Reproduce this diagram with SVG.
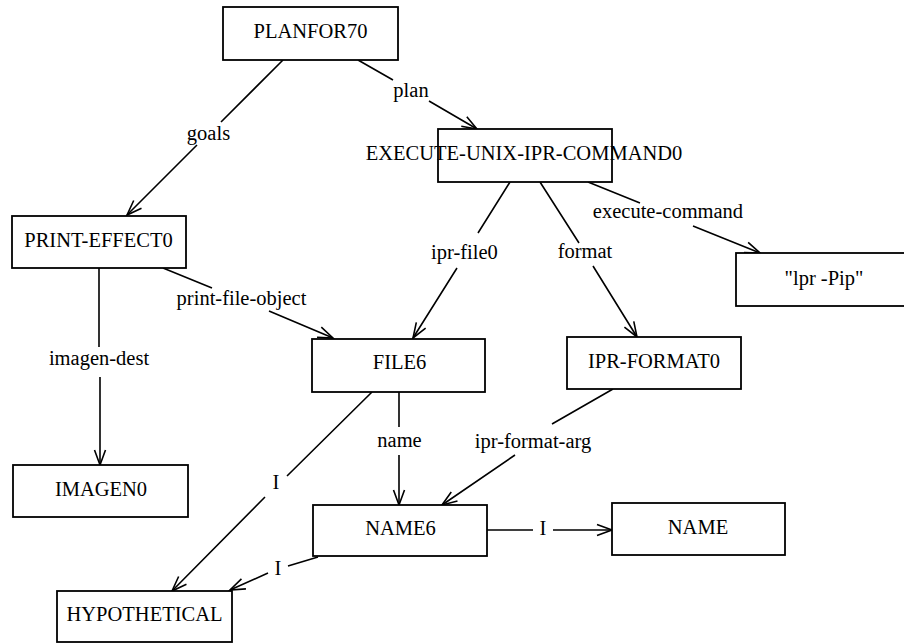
<svg xmlns="http://www.w3.org/2000/svg" width="904" height="644" viewBox="0 0 904 644">
  <defs>
    <marker id="arrow" markerUnits="userSpaceOnUse" markerWidth="20" markerHeight="14" refX="16" refY="6" orient="auto" overflow="visible">
      <path d="M1,0.5 L16,6 L1,11.5" fill="none" stroke="#000" stroke-width="1.6"/>
    </marker>
  </defs>
  <style>
    rect { fill: #fff; stroke: #000; stroke-width: 1.8; }
    text { font-family: "Liberation Serif", "Times New Roman", serif; font-size: 20.5px; fill: #000; text-anchor: middle; }
    .edge { fill: none; stroke: #000; stroke-width: 1.6; marker-end: url(#arrow); }
  </style>
  <rect x="0" y="0" width="904" height="644" style="fill:#fff;stroke:none"/>

  <!-- connectors: each path is broken around its label; the arrow sits on the last segment -->
  <g id="connectors">
    <path class="edge" d="M283,60 L221,122 M197,145 L127,215"/>
    <path class="edge" d="M358,60 L393,80 M429,101 L477,129"/>
    <path class="edge" d="M588,182 L640,203 M693,226 L760,253"/>
    <path class="edge" d="M510,182 L478,233 M457,268 L413,338"/>
    <path class="edge" d="M540,182 L579,243 M593,266 L637,337"/>
    <path class="edge" d="M163,268 L212,288 M269,311 L333,338"/>
    <path class="edge" d="M99,268 L99,347 M100,377 L100,465"/>
    <path class="edge" d="M399,392 L399,427 M399,455 L399,505"/>
    <path class="edge" d="M613,389 L552,424 M515,455 L442,505"/>
    <path class="edge" d="M372,392 L287,476 M265,497 L172,591"/>
    <path class="edge" d="M318,557 L288,566 M268,573 L230,590"/>
    <path class="edge" d="M487,530 L533,530 M553,530 L612,530"/>

    <text x="208.5" y="140">goals</text>
    <text x="411" y="97">plan</text>
    <text x="668" y="218">execute-command</text>
    <text x="464.5" y="259">ipr-file0</text>
    <text x="585" y="258">format</text>
    <text x="241.5" y="305">print-file-object</text>
    <text x="99" y="365">imagen-dest</text>
    <text x="399.5" y="447">name</text>
    <text x="533" y="448">ipr-format-arg</text>
    <text x="276" y="489">I</text>
    <text x="278" y="575">I</text>
    <text x="543" y="535">I</text>
  </g>

  <g id="PLANFOR70">
    <rect x="223" y="7" width="175" height="53"/>
    <text x="310.5" y="38">PLANFOR70</text>
  </g>
  <g id="EXECUTE-UNIX-IPR-COMMAND0">
    <rect x="438" y="129" width="174" height="53"/>
    <text x="524" y="160">EXECUTE-UNIX-IPR-COMMAND0</text>
  </g>
  <g id="lpr-Pip">
    <rect x="736" y="253" width="176" height="53"/>
    <text x="824" y="285">"lpr -Pip"</text>
  </g>
  <g id="PRINT-EFFECT0">
    <rect x="12" y="216" width="174" height="52"/>
    <text x="98.5" y="247">PRINT-EFFECT0</text>
  </g>
  <g id="FILE6">
    <rect x="312" y="339" width="173" height="53"/>
    <text x="399.5" y="369">FILE6</text>
  </g>
  <g id="IPR-FORMAT0">
    <rect x="567" y="337" width="174" height="52"/>
    <text x="654" y="368">IPR-FORMAT0</text>
  </g>
  <g id="IMAGEN0">
    <rect x="13" y="465" width="175" height="52"/>
    <text x="101" y="496">IMAGEN0</text>
  </g>
  <g id="NAME6">
    <rect x="313" y="505" width="174" height="51"/>
    <text x="400.5" y="535">NAME6</text>
  </g>
  <g id="NAME">
    <rect x="612" y="503" width="173" height="52"/>
    <text x="698" y="534">NAME</text>
  </g>
  <g id="HYPOTHETICAL">
    <rect x="57" y="591" width="175" height="51"/>
    <text x="144.5" y="621">HYPOTHETICAL</text>
  </g>
</svg>
